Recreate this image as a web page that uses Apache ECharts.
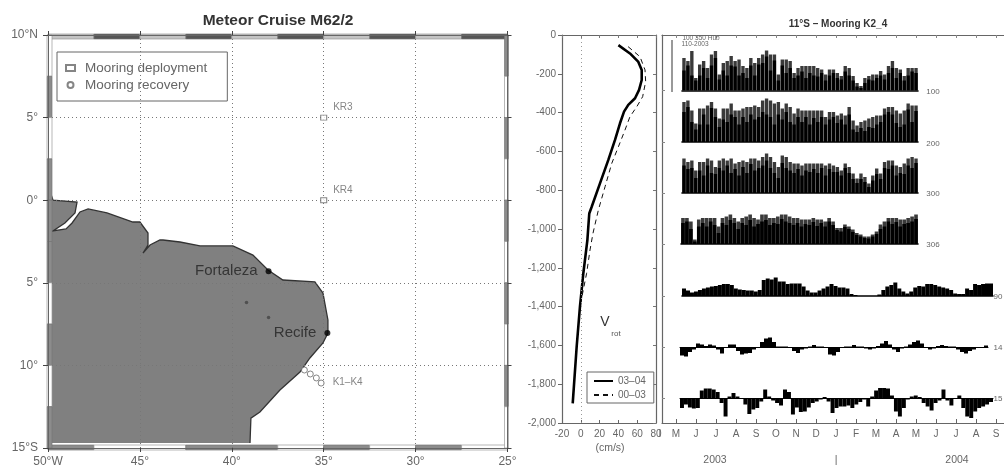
<!DOCTYPE html>
<html><head><meta charset="utf-8">
<style>html,body{margin:0;padding:0;background:#fff;overflow:hidden}#c{width:1004px;height:466px;filter:blur(.7px)}</style>
<script src="https://cdn.jsdelivr.net/npm/echarts@6/dist/echarts.min.js"></script>
</head><body><div id="c"></div>
<script>
// ---- map data (degrees) ----
const lonLabels=['50°W','45°','40°','35°','30°','25°'];
const latLabels=['15°S','10°','5°','0°','5°','10°N'];
const coast=[[-50,.5],[-49.9,.56],[-49.73,.01],[-48.42,-.11],[-48.53,-.77],[-49.08,-1.38],[-49.73,-1.86],[-49.02,-1.74],[-48.69,-1.38],[-48.26,-.71],[-47.82,-.53],[-46.79,-.77],[-45.38,-1.32],[-45,-1.32],[-44.56,-1.99],[-44.56,-2.71],[-44.83,-3.2],[-44.45,-2.71],[-43.91,-2.41],[-43.74,-2.41],[-42.82,-2.53],[-41.73,-2.77],[-39.94,-2.77],[-38.85,-3.32],[-38.03,-4.23],[-37.22,-4.83],[-35.48,-4.95],[-35.04,-5.62],[-34.77,-7.25],[-34.77,-8.04],[-35.04,-8.64],[-35.75,-9.55],[-36.29,-10.4],[-37.38,-11.49],[-38.47,-12.82],[-38.96,-13.19],[-39.01,-14.7]];
const landClose=[[-50,-14.7]];
const lakes=[[-39.2,-6.2],[-38,-7.1]];
const deployments=[{name:'KR3',value:[-35,5]},{name:'KR4',value:[-35,0]}];
const recoveries=[{name:'',value:[-36.05,-10.28]},{name:'',value:[-35.73,-10.52]},{name:'',value:[-35.4,-10.76]},{name:'K1–K4',value:[-35.14,-11.07]}];
const cities=[{name:'Fortaleza',value:[-38,-4.3]},{name:'Recife',value:[-34.8,-8.04]}];
// frame segments: [from, to, dark?]
const frameTop=[[-50,-47.5,0],[-47.5,-45,1],[-45,-42.5,0],[-42.5,-40,1],[-40,-37.5,0],[-37.5,-35,1],[-35,-32.5,0],[-32.5,-30,1],[-30,-27.5,0],[-27.5,-25,1]];
const frameBottom=[[-50,-47.5,1],[-47.5,-42.5,0],[-42.5,-37.5,1],[-37.5,-35,0],[-35,-32.5,1],[-32.5,-30,0],[-30,-27.5,1],[-27.5,-25,0]];
const frameLeft=[[10,7.5,0],[7.5,5,1],[5,2.5,0],[2.5,0,1],[0,-2.5,1],[-2.5,-5,1],[-5,-7.5,0],[-7.5,-10,1],[-10,-12.5,0],[-12.5,-15,1]];
const frameRight=[[10,7.5,1],[7.5,5,0],[5,2.5,1],[2.5,0,0],[0,-2.5,1],[-2.5,-5,0],[-5,-7.5,1],[-7.5,-10,0],[-10,-12.5,1],[-12.5,-15,0]];
// ---- profile data: [cm/s, depth m] ----
const vrot0304=[[40,-52],[52.3,-95],[61,-137],[64.8,-180],[64.8,-232],[62,-283],[57.7,-326],[50.5,-360],[46,-395],[41.7,-455],[36.4,-541],[29.3,-644],[20.4,-765],[11.6,-885],[9,-920],[7,-1057],[2.7,-1228],[-.9,-1400],[-4.4,-1607],[-8.6,-1899]];
const vrot0003=[[50.3,-60],[63,-112],[68.3,-180],[69,-240],[65.8,-318],[59.5,-370],[52.3,-421],[47,-490],[40,-576],[32.9,-662],[25.8,-782],[18.7,-902],[13,-1021],[9.8,-1108],[6.2,-1228],[-.9,-1400],[-4.4,-1607],[-8.6,-1899]];
// ---- stick rows (cm/s) ----
const monthLabels=['M','J','J','A','S','O','N','D','J','F','M','A','M','J','J','A','S'];
const row100=[65,59,79,25,52,59,45,72,79,32,55,59,69,59,62,49,45,65,55,65,72,80,72,72,32,62,62,59,35,45,49,49,49,49,45,42,32,42,42,35,29,49,45,29,15,9,25,29,32,32,39,32,49,59,45,42,29,45,45,45];
const row200=[80,83,63,37,67,67,73,80,67,47,67,67,77,63,63,67,70,70,73,70,83,87,83,77,80,67,77,70,57,67,63,63,63,63,63,63,50,60,60,53,57,53,70,43,33,40,43,47,50,53,53,67,70,70,63,57,63,77,73,73];
const row300=[69,62,65,45,62,62,69,65,52,65,69,65,69,59,62,65,62,69,69,65,72,79,72,62,52,75,72,62,59,59,55,59,59,59,59,59,55,59,55,52,45,59,52,39,29,39,32,19,35,49,39,62,65,65,55,52,59,69,72,69];
const row306=[52,52,45,9,49,52,52,52,52,35,52,55,59,52,45,52,55,59,52,49,59,59,52,52,55,59,59,55,52,52,49,49,49,52,49,49,45,52,45,32,32,39,35,29,22,19,15,15,19,25,39,45,52,52,52,49,49,52,55,59];
const core100=[40,50,30,20,30,45,25,50,65,22,40,30,50,48,30,35,25,50,30,52,55,68,40,60,20,50,35,45,25,30,38,25,35,30,28,35,20,30,35,25,22,38,30,20,8,5,15,22,20,25,30,22,35,45,25,35,20,30,38,35];
const core200=[60,70,40,25,35,55,35,68,50,30,45,40,55,50,35,50,40,55,45,50,60,55,50,35,55,45,60,40,35,50,40,50,35,48,40,50,35,45,50,38,45,35,55,25,20,28,22,30,28,35,40,55,60,55,38,30,35,65,40,62];
const core300=[55,48,50,30,45,35,55,40,38,50,45,55,40,48,35,52,40,58,45,50,55,65,50,40,30,60,50,45,40,48,35,45,42,48,40,50,35,48,42,42,35,50,40,28,20,28,22,12,25,38,28,50,48,55,35,40,38,55,50,60];
const core306=[42,45,30,5,35,42,35,45,38,22,42,38,48,42,30,42,38,48,35,40,45,48,38,42,40,50,45,42,38,42,35,40,38,44,36,42,35,45,38,28,25,34,30,24,18,15,12,11,15,20,30,35,45,40,44,35,40,42,45,50];
const row900=[15,11,7,9,12,15,17,19,20,22,24,24,22,15,13,12,11,11,9,12,32,35,33,37,29,29,24,25,25,25,19,11,7,7,11,15,19,24,20,17,17,15,4,2,0,0,0,0,0,3,12,19,22,27,15,9,5,9,17,20,19,24,24,22,19,17,15,12,5,4,4,15,12,24,22,24,25,25];
const row1400=[-17,-19,-10,-5,7,5,2,5,3,-5,-13,-2,5,5,-8,-15,-13,-12,-5,-1,10,17,19,10,1,1,1,-2,-8,-12,-5,-3,1,4,1,1,-1,-15,-17,-10,-1,1,1,4,1,1,-3,-5,-3,2,7,12,5,-5,-10,-3,1,5,10,13,7,-2,-5,-3,2,4,2,1,1,-5,-10,-13,-8,-5,-2,-1,3];
const row1500=[-20,-13,-19,-21,-20,15,19,19,17,12,-10,-37,3,10,3,-2,-13,-32,-23,-20,-7,17,3,-5,-10,-15,17,12,-33,-19,-28,-27,-19,-10,-7,-3,2,-7,-30,-20,-17,-17,-15,-20,-13,-8,-3,-17,3,15,20,20,19,5,-27,-37,-20,-3,3,5,2,-10,-17,-25,-10,-5,17,-5,-15,-2,5,-20,-37,-40,-27,-20,-17,-13,-8];

const grey='#666';
const chart=echarts.init(document.getElementById('c'));
const xAxes=[],yAxes=[],grids=[],series=[];

// grid 0: map
grids.push({left:48,top:35,width:459.5,height:413,outerBoundsMode:'none'});
const mapLine={onZero:false,lineStyle:{color:grey}};
xAxes.push({gridIndex:0,type:'value',min:-50,max:-25,interval:5,z:5,axisLine:mapLine,axisTick:{length:4,lineStyle:{color:'#444'}},
  splitLine:{show:true,lineStyle:{color:'#777',type:[1,3],width:1}},
  axisLabel:{fontFamily:'Liberation Sans',fontSize:12,color:'#666',margin:8,formatter:v=>lonLabels[Math.round((v+50)/5)]}});
yAxes.push({gridIndex:0,type:'value',min:-15,max:10,interval:5,z:5,axisLine:mapLine,axisTick:{length:5,lineStyle:{color:'#444'}},
  splitLine:{show:true,lineStyle:{color:'#777',type:[1,3],width:1}},
  axisLabel:{fontFamily:'Liberation Sans',fontSize:12,color:'#666',margin:10,formatter:v=>latLabels[Math.round((v+15)/5)]}});
xAxes.push({gridIndex:0,type:'value',position:'top',min:-50,max:-25,interval:5,z:5,axisLine:mapLine,axisTick:{length:4,lineStyle:{color:'#444'}},splitLine:{show:false},axisLabel:{show:false}});
yAxes.push({gridIndex:0,type:'value',position:'right',min:-15,max:10,interval:5,z:5,axisLine:mapLine,axisTick:{length:4,lineStyle:{color:'#444'}},splitLine:{show:false},axisLabel:{show:false}});

series.push({type:'custom',name:'land',xAxisIndex:0,yAxisIndex:0,z:1,silent:true,data:[[0,0]],clip:true,
  renderItem:(p,api)=>{
    const pts=coast.concat(landClose).map(c=>api.coord(c));
    const line=coast.map(c=>api.coord(c));
    return {type:'group',children:[
      {type:'polygon',shape:{points:pts},style:{fill:'#808080'}},
      {type:'polyline',shape:{points:line},style:{fill:null,stroke:'#333',lineWidth:1.3}}
    ]};
  }});
const seg=[];
frameTop.forEach(s=>seg.push(['t',...s]));frameBottom.forEach(s=>seg.push(['b',...s]));
frameLeft.forEach(s=>seg.push(['l',...s]));frameRight.forEach(s=>seg.push(['r',...s]));
series.push({type:'custom',name:'frame',xAxisIndex:0,yAxisIndex:0,z:2,silent:true,clip:false,data:seg.map((s,i)=>[i,0]),
  renderItem:(p,api)=>{
    const s=seg[p.dataIndex],side=s[0];
    let r;
    if(side==='t'||side==='b'){
      const a=api.coord([s[1],side==='t'?10:-15]),b=api.coord([s[2],side==='t'?10:-15]);
      r=side==='t'?{x:a[0],y:a[1]-1,width:b[0]-a[0],height:5}:{x:a[0],y:a[1]-3,width:b[0]-a[0],height:5};
    }else{
      const a=api.coord([side==='l'?-50:-25,s[1]]),b=api.coord([side==='l'?-50:-25,s[2]]);
      r=side==='l'?{x:a[0]-1,y:a[1],width:5,height:b[1]-a[1]}:{x:a[0]-3,y:a[1],width:4,height:b[1]-a[1]};
    }
    const dark=s[3];
    return {type:'rect',shape:r,style:{fill:dark?(side==='t'?'#555':'#8c8c8c'):(side==='t'?'#c4c4c4':'#fff'),stroke:dark?'#777':'#999',lineWidth:.7}};
  }});
series.push({type:'scatter',name:'lakes',xAxisIndex:0,yAxisIndex:0,z:3,silent:true,symbol:'circle',symbolSize:3.5,itemStyle:{color:'#444'},data:lakes});
const mk={fontFamily:'Liberation Sans',fontSize:10,color:'#666'};
series.push({type:'scatter',name:'Mooring deployment',xAxisIndex:0,yAxisIndex:0,z:6,symbol:'rect',symbolSize:[6,5],itemStyle:{color:'#fff',borderColor:'#666',borderWidth:1},
  label:{show:true,formatter:'{b}',position:[13,-12],...mk},data:deployments});
series.push({type:'scatter',name:'Mooring recovery',xAxisIndex:0,yAxisIndex:0,z:6,symbol:'circle',symbolSize:6,itemStyle:{color:'#fff',borderColor:'#666',borderWidth:1},
  label:{show:true,formatter:'{b}',position:[15,-2],...mk},data:recoveries});
series.push({type:'scatter',name:'cities',xAxisIndex:0,yAxisIndex:0,z:6,symbol:'circle',symbolSize:6,itemStyle:{color:'#000'},
  label:{show:true,formatter:'{b}',position:'left',distance:8,fontFamily:'Liberation Sans',fontSize:15,color:'#222'},data:cities});

// grid 1: profile
grids.push({left:562,top:35,width:94,height:388,outerBoundsMode:'none'});
const axL={onZero:false,lineStyle:{color:'#666',width:1.2}};
const lp={fontFamily:'Liberation Sans',fontSize:10,color:'#666'};
xAxes.push({gridIndex:1,type:'value',min:-20,max:80,interval:20,axisLine:axL,axisTick:{inside:true,length:3,lineStyle:{color:'#666'}},splitLine:{show:false},axisLabel:{...lp,margin:6}});
yAxes.push({gridIndex:1,type:'value',min:-2000,max:0,interval:200,axisLine:axL,axisTick:{inside:false,length:4,lineStyle:{color:'#666'}},splitLine:{show:false},axisLabel:{...lp,margin:6}});
xAxes.push({gridIndex:1,type:'value',position:'top',min:-20,max:80,interval:20,axisLine:axL,axisTick:{inside:true,length:3,lineStyle:{color:'#777'}},splitLine:{show:false},axisLabel:{show:false}});
yAxes.push({gridIndex:1,type:'value',position:'right',min:-2000,max:0,interval:200,axisLine:axL,axisTick:{inside:true,length:3,lineStyle:{color:'#777'}},splitLine:{show:false},axisLabel:{show:false}});
series.push({type:'line',name:'00–03',xAxisIndex:2,yAxisIndex:2,data:vrot0003,showSymbol:false,symbol:'none',z:3,itemStyle:{color:'#111'},lineStyle:{color:'#111',width:1,type:[5,4]},
  markLine:{silent:true,symbol:'none',label:{show:false},lineStyle:{color:'#999',type:[1,3],width:1},data:[{xAxis:0}]}});
series.push({type:'line',name:'03–04',xAxisIndex:2,yAxisIndex:2,data:vrot0304,showSymbol:false,symbol:'none',z:4,itemStyle:{color:'#000'},lineStyle:{color:'#000',width:2.6}});

// grid 2: mooring frame
grids.push({left:662,top:35,right:0,height:388,outerBoundsMode:'none'});
const f={onZero:false,lineStyle:{color:'#666',width:1.2}};
const monthTicks=monthLabels.map((m,i)=>i);
xAxes.push({gridIndex:2,type:'value',min:-.7,max:16.4,axisLine:f,axisTick:{inside:true,length:4,customValues:monthTicks,lineStyle:{color:'#666'}},splitLine:{show:false},
  axisLabel:{...lp,margin:6,customValues:monthTicks,formatter:v=>monthLabels[Math.round(v)]}});
xAxes.push({gridIndex:2,type:'value',position:'top',min:-.7,max:16.4,axisLine:f,axisTick:{inside:true,length:3,customValues:monthTicks,lineStyle:{color:'#888'}},splitLine:{show:false},axisLabel:{show:false}});
const rowTicks=[55.5,107,158,209,261,312,363];
yAxes.push({gridIndex:2,type:'value',inverse:true,min:0,max:388,axisLine:f,axisTick:{inside:true,length:3,customValues:rowTicks,lineStyle:{color:'#888'}},splitLine:{show:false},axisLabel:{show:false}});
const scaleBar=[[-.2,5],[-.2,57]];
const frameX=xAxes.length-2,frameY=yAxes.length-1;
series.push({type:'line',name:'scale',xAxisIndex:frameX,yAxisIndex:frameY,data:scaleBar,showSymbol:false,symbol:'none',lineStyle:{color:'#555',width:1.2}});

// grids 3-9: stick rows
const rows=[
 {v:row100,c:core100,base:90.5,left:682,width:236,gap:'14%'},
 {v:row200,c:core200,base:142,left:682,width:236,gap:'14%'},
 {v:row300,c:core300,base:193,left:682,width:236,gap:'14%'},
 {v:row306,c:core306,base:244,left:681,width:237,gap:'8%'},
 {v:row900,base:296,left:682,width:311,gap:'0%'},
 {v:row1400,base:347,left:680,width:308,gap:'0%'},
 {v:row1500,base:398,left:680,width:313,gap:'0%'}
];
rows.forEach((r,i)=>{
  grids.push({left:r.left,width:r.width,top:r.base-50,height:75,outerBoundsMode:'none'});
  const g=grids.length-1;
  xAxes.push({gridIndex:g,type:'category',data:r.v.map((_,k)=>k),axisLine:{onZero:true,lineStyle:{color:'#000',width:i<5?1.6:1}},axisTick:{show:false},axisLabel:{show:false},splitLine:{show:false}});
  yAxes.push({gridIndex:g,type:'value',min:-50,max:100,show:false,splitLine:{show:false}});
  const xi=xAxes.length-1,yi=yAxes.length-1;
  series.push({type:'bar',name:'row'+i,xAxisIndex:xi,yAxisIndex:yi,data:r.v,barGap:'-100%',barCategoryGap:r.gap,itemStyle:{color:r.c?'#3a3a3a':'#000'},silent:true});
  if(r.c) series.push({type:'bar',name:'core'+i,xAxisIndex:xi,yAxisIndex:yi,data:r.c,barGap:'-100%',barCategoryGap:r.gap,itemStyle:{color:'#000'},silent:true});
});

const T=(text,x,y,size,extra)=>({text,left:x,top:y,padding:0,textAlign:'center',textVerticalAlign:'middle',textStyle:{fontFamily:'Liberation Sans',fontSize:size,fontWeight:'normal',color:'#666',...extra}});
const titles=[
 T('Meteor Cruise M62/2',278,21,15.5,{fontWeight:'bold',color:'#333'}),
 T('11°S – Mooring K2_4',838,24,10,{fontWeight:'bold',color:'#333'}),
 T('(cm/s)',610,448,10.5),
 T('V',605,322,14,{color:'#333'}),
 T('rot',616,334,8,{color:'#555'}),
 T('2003',715,460,10.5),
 T('|',836,460,10.5),
 T('2004',957,460,10.5),
 T('I',660,434,10),
 T('100 350 Hub',701,38,6.5),
 T('110-2003',695,44,6.5),
 T('100',933,92,8),
 T('200',933,144,8),
 T('300',933,194,8),
 T('306',933,245,8),
 T('90',998,297,8),
 T('14',998,348,8),
 T('15',998,399,8)
];
chart.setOption({animation:false,backgroundColor:'#fff',title:titles,grid:grids,xAxis:xAxes,yAxis:yAxes,series,
 legend:[
  {show:true,data:['Mooring deployment','Mooring recovery'],orient:'vertical',left:57,top:52,padding:[8,20,8,8],itemWidth:9,itemHeight:6,itemGap:1,borderColor:'#666',borderWidth:1,selectedMode:false,
   textStyle:{fontFamily:'Liberation Sans',fontSize:13.5,color:'#666',padding:[0,0,0,5],lineHeight:16}},
  {show:true,data:['03–04','00–03'],orient:'vertical',left:587,top:372,padding:[4,8,3,6],itemWidth:19,itemHeight:8,itemGap:4,borderColor:'#666',borderWidth:1,backgroundColor:'#fff',selectedMode:false,itemStyle:{opacity:0},
   textStyle:{fontFamily:'Liberation Sans',fontSize:10,color:'#666'}}
 ]});
</script></body></html>
